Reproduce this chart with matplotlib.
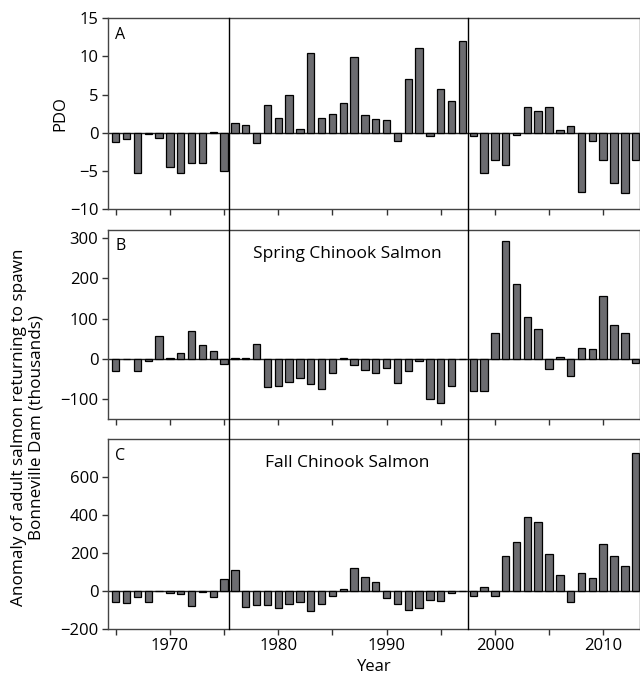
import matplotlib.pyplot as plt
import matplotlib.transforms as mtransforms
from matplotlib.lines import Line2D

plt.rcParams['font.family'] = ['Open Sans', 'DejaVu Sans']

years = list(range(1965, 2014))

pdo = [-1.2, -0.8, -5.3, -0.1, -0.7, -4.5, -5.3, -3.9, -4.0, 0.1,
       -5.0, 1.35, 1.0, -1.3, 3.6, 1.9, 4.9, 0.45, 10.5, 1.9,
       2.5, 3.85, 9.9, 2.4, 1.85, 1.65, -1.1, 7.0, 11.1, -0.4,
       5.8, 4.2, 12.0, -0.35, -5.2, -3.6, -4.2, -0.3, 3.45, 2.9,
       3.45, 0.35, 0.9, -7.7, -1.1, -3.6, -6.5, -7.8, -3.5]

spring = [-31, -1, -31, -6, 56, 3, 15, 69, 34, 20,
          -12, 3, 1, 38, -69, -67, -58, -48, -63, -74,
          -36, 2, -15, -27, -36, -23, -61, -30, -5, -100,
          -110, -68, -1, -80, -80, 64, 292, 185, 103, 74,
          -26, 4, -42, 27, 25, 155, 83, 64, -11]

fall = [-61, -67, -33, -60, 0, -14, -18, -81, -9, -33,
        60, 107, -88, -74, -75, -93, -72, -61, -107, -72,
        -30, 9, 118, 72, 46, -40, -68, -103, -93, -47,
        -56, -14, -3, -30, 21, -26, 184, 256, 391, 365,
        196, 81, -61, 96, 65, 249, 182, 130, 728]

regime_shifts = [1975.5, 1997.5]

fig = plt.figure(figsize=(6.4, 6.77), dpi=100)
left, right = 0.169, 1.0
ax_a = fig.add_axes([left, 0.6908, right - left, 0.973 - 0.6908])
ax_b = fig.add_axes([left, 0.3807, right - left, 0.6603 - 0.3807])
ax_c = fig.add_axes([left, 0.0713, right - left, 0.3516 - 0.0713])

panels = [
    (ax_a, pdo, (-10, 15), [-10, -5, 0, 5, 10, 15], 'A', None),
    (ax_b, spring, (-150, 320), [-100, 0, 100, 200, 300], 'B', 'Spring Chinook Salmon'),
    (ax_c, fall, (-200, 800), [-200, 0, 200, 400, 600], 'C', 'Fall Chinook Salmon'),
]

for ax, vals, ylim, yticks, letter, title in panels:
    ax.bar(years, vals, width=0.68, color='#6c6c70', edgecolor='black', linewidth=0.9, zorder=2)
    ax.axhline(0, color='#222222', linewidth=1.0, zorder=1)
    ax.set_xlim(1964.3, 2013.4)
    ax.set_ylim(*ylim)
    ax.set_yticks(yticks)
    ax.set_yticklabels([str(t).replace('-', '\u2212') for t in yticks])
    ax.set_xticks(range(1965, 2014, 5))
    ax.set_xticklabels([])
    ax.tick_params(direction='out', length=4, width=1, labelsize=12, color='#333333', pad=3)
    for sp in ax.spines.values():
        sp.set_color('#444444')
        sp.set_linewidth(1.0)
    ax.text(0.013, 0.955, letter, transform=ax.transAxes, fontsize=11.5, va='top', ha='left')
    if title:
        ax.text(0.45, 0.873, title, transform=ax.transAxes, fontsize=12.5, va='center', ha='center')

ax_c.set_xticklabels(['' if y % 10 else str(y) for y in range(1965, 2014, 5)])
ax_c.set_xlabel('Year', fontsize=12, labelpad=3)
ax_a.set_ylabel('PDO', fontsize=12, labelpad=1)

fig.text(0.043, 0.369, 'Anomaly of adult salmon returning to spawn\nBonneville Dam (thousands)',
         rotation=90, ha='center', va='center', fontsize=12.3, multialignment='center',
         linespacing=1.15)

# regime-shift lines run through all three panels
trans = mtransforms.blended_transform_factory(ax_a.transData, fig.transFigure)
for xs in regime_shifts:
    fig.add_artist(Line2D([xs, xs], [0.0713, 0.973], transform=trans, color='black', linewidth=1.0))

fig.savefig('out.png', dpi=100)
